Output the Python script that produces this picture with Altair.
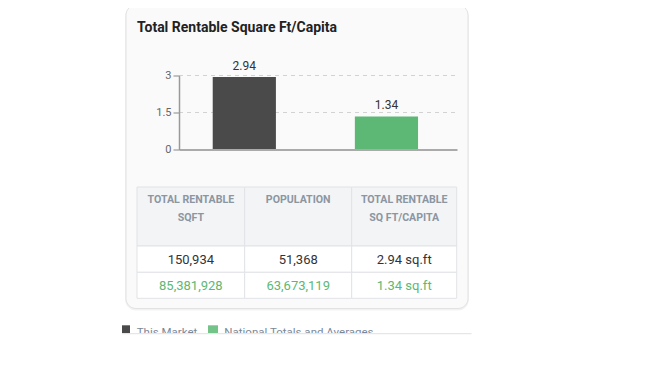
import altair as alt
import pandas as pd

# ---------------- data ----------------
categories = ["This Market", "National Totals and Averages"]
sqft_per_capita = [2.94, 1.34]
bar_colors = ["#4a4a4a", "#5cb874"]
y_ticks = [0, 1.5, 3]
title_text = "Total Rentable Square Ft/Capita"
header_lines = [["TOTAL RENTABLE", "SQFT"], ["POPULATION"], ["TOTAL RENTABLE", "SQ FT/CAPITA"]]
market_row = ["150,934", "51,368", "2.94 sq.ft"]
national_row = ["85,381,928", "63,673,119", "1.34 sq.ft"]

# ---------------- layout ----------------
OX, OY = 179, 75.5        # page position of the plot origin
W, H = 278, 74            # plot area
FONT = "Roboto"


def px(x):
    return x - OX


def py(y):
    return y - OY


one = alt.Data(values=[{"k": 0}])


def box(x1, y1, x2, y2, **kw):
    return alt.Chart(one).mark_rect(**kw).encode(
        x=alt.value(px(x1)), x2=alt.value(px(x2)),
        y=alt.value(py(y1)), y2=alt.value(py(y2)))


def label(x, y, s, **kw):
    kw.setdefault("font", FONT)
    return alt.Chart(one).mark_text(text=s, baseline="alphabetic", **kw).encode(
        x=alt.value(px(x)), y=alt.value(py(y)))


cscale = alt.Scale(domain=categories, range=bar_colors)
yscale = alt.Scale(domain=[0, 3], nice=False)
xscale = alt.Scale(domain=categories, paddingInner=0.5554, paddingOuter=0.2556, align=0.464)
yaxis = alt.Axis(values=y_ticks, labelExpr="toString(datum.value)", grid=False, title=None,
                 labelColor="#666", labelFont=FONT, labelFontSize=11, tickColor="#888", tickSize=6,
                 domainColor="#999", domainWidth=1.5, labelPadding=2, zindex=1)
xaxis = alt.Axis(labels=False, ticks=False, title=None, domainColor="#aaa",
                 domainWidth=2, zindex=1)

df = pd.DataFrame({"cat": categories, "v": sqft_per_capita})
grid_df = pd.DataFrame({"v": [t for t in y_ticks if t > 0]})

layers = []
# card with shadow
layers.append(box(125, 6.5, 469, 310.5, fill="#000000", opacity=0.05, cornerRadius=11))
layers.append(box(126, 5, 468, 308.5, fill="#fafafa", stroke="#e2e2e2", strokeWidth=1, cornerRadius=10))
# title
layers.append(label(137, 32.3, title_text, fontSize=14, fontWeight="bold", color="#222", align="left"))

# gridlines
layers.append(alt.Chart(grid_df).mark_rule(color="#d2d2d2", strokeDash=[4, 4], strokeWidth=1).encode(
    y=alt.Y("v:Q", scale=yscale, axis=yaxis), x=alt.value(0), x2=alt.value(W)))

# bars
layers.append(alt.Chart(df).mark_bar().encode(
    x=alt.X("cat:N", scale=xscale, axis=xaxis, sort=categories),
    y=alt.Y("v:Q", scale=yscale, axis=yaxis),
    color=alt.Color("cat:N", scale=cscale, legend=None)))
layers.append(alt.Chart(df).mark_text(dy=-7, baseline="alphabetic", font=FONT, fontSize=12, color="#333").encode(
    x=alt.X("cat:N", scale=xscale, axis=xaxis, sort=categories),
    y=alt.Y("v:Q", scale=yscale, axis=yaxis),
    text=alt.Text("v:Q", format=".2f")))

# table
col_edges = [137, 244.7, 351.7, 456.7]
row_edges = [187, 246, 272.3, 298.3]
for r in range(3):
    for c in range(3):
        layers.append(box(col_edges[c], row_edges[r], col_edges[c + 1], row_edges[r + 1],
                          fill="#f3f4f6" if r == 0 else "#ffffff", stroke="#e0e3e7", strokeWidth=1))
for c in range(3):
    cx = (col_edges[c] + col_edges[c + 1]) / 2
    for i, line in enumerate(header_lines[c]):
        layers.append(label(cx, 203.3 + 17.4 * i, line, fontSize=10.6, fontWeight="bold",
                            color="#8b96a1", align="center"))
    layers.append(label(cx, 264, market_row[c], fontSize=13, color="#333", align="center"))
    layers.append(label(cx, 290, national_row[c], fontSize=13, color="#5cb874", align="center"))

# legend (partially hidden)
leg0 = alt.Data(values=[{"cat": categories[0]}])
leg1 = alt.Data(values=[{"cat": categories[1]}])
layers.append(alt.Chart(leg0).mark_rect().encode(
    x=alt.value(px(122)), x2=alt.value(px(130)), y=alt.value(py(325.3)), y2=alt.value(py(334)),
    color=alt.Color("cat:N", scale=cscale, legend=None)))
layers.append(alt.Chart(leg1).mark_rect(opacity=0.85).encode(
    x=alt.value(px(208)), x2=alt.value(px(218)), y=alt.value(py(325.3)), y2=alt.value(py(334)),
    color=alt.Color("cat:N", scale=cscale, legend=None)))
layers.append(label(136.7, 335.5, categories[0], fontSize=11.5, color="#7a8899", align="left"))
layers.append(label(224.3, 335.5, categories[1], fontSize=11.5, color="#7a8899", align="left"))
layers.append(box(100, 333.5, 520, 372, fill="#ffffff"))
layers.append(box(122, 333, 471.5, 334.2, fill="#e6e6e6"))

chart = alt.layer(*layers).properties(
    width=W, height=H,
    padding={"left": OX - 8, "top": OY - 8, "right": 644 - (OX - 8) - W, "bottom": 349 - (OY - 8) - H},
    autosize=alt.AutoSizeParams(type="none"),
    background="#ffffff",
).configure_view(stroke=None)

chart.save("out.html", embed_options={"renderer": "svg", "actions": False})
